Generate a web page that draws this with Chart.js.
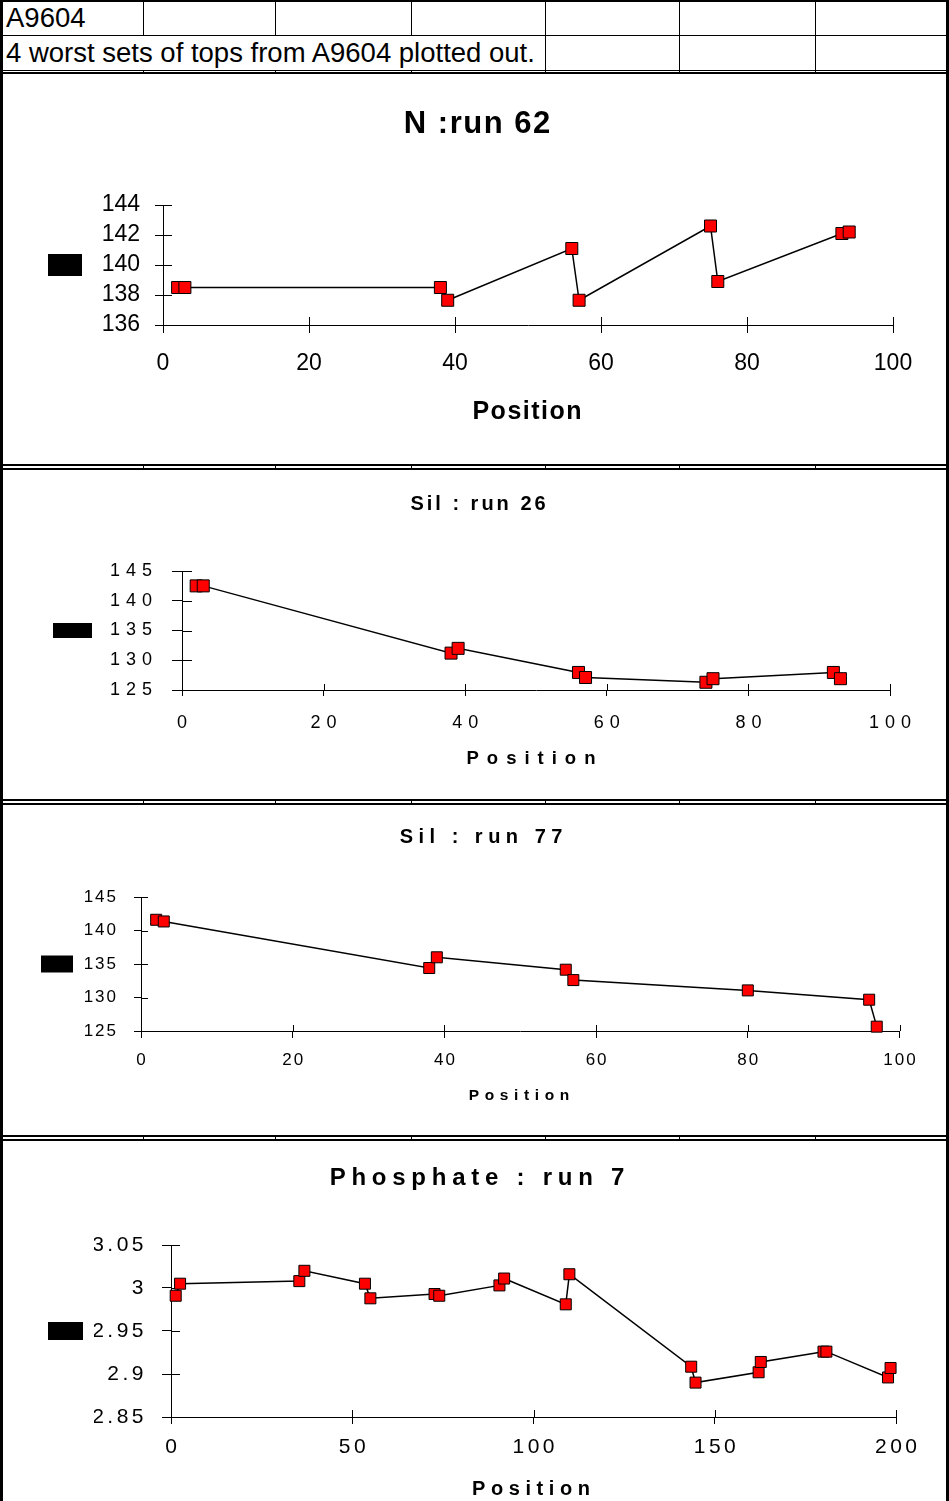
<!DOCTYPE html>
<html><head><meta charset="utf-8">
<script src="https://cdn.jsdelivr.net/npm/chart.js@4.4.1/dist/chart.umd.min.js"></script>
<style>
body{margin:0;background:#fff;}
#page{position:relative;width:949px;height:1501px;overflow:hidden;background:#fff;font-family:"Liberation Sans",Arial,sans-serif;color:#000;}
.vl{position:absolute;width:1px;background:#000;}
.hl{position:absolute;height:1px;background:#000;left:0;width:949px;}
.frame{position:absolute;left:0;width:949px;box-sizing:border-box;border:2px solid #000;border-left-width:3px;border-right-width:3px;background:#fff;}
.txt{position:absolute;white-space:nowrap;left:6px;font-size:27.5px;line-height:28px;}
.ctr{position:absolute;white-space:nowrap;text-align:center;width:600px;font-weight:bold;}
canvas{position:absolute;left:0;}
</style></head><body>
<div id="page">
  <div class="hl" style="top:0;height:2px"></div>
  <div class="hl" style="top:35px"></div>
  <div class="hl" style="top:70px"></div>
  <div class="vl" style="left:0;top:0;height:1501px;width:3px"></div>
  <div class="vl" style="left:946px;top:0;height:1501px;width:3px"></div>
  <div class="vl" style="left:143px;top:0;height:35px"></div>
  <div class="vl" style="left:275px;top:0;height:35px"></div>
  <div class="vl" style="left:411px;top:0;height:35px"></div>
  <div class="vl" style="left:545px;top:0;height:72px"></div>
  <div class="vl" style="left:679px;top:0;height:72px"></div>
  <div class="vl" style="left:815px;top:0;height:72px"></div>
  <div id="stubs"></div>
  <div class="txt" style="top:4px">A9604</div>
  <div class="txt" style="top:39px">4 worst sets of tops from A9604 plotted out.</div>

  <div class="frame" style="top:72px;height:394px"></div>
  <div class="frame" style="top:468px;height:333px"></div>
  <div class="frame" style="top:803px;height:334px"></div>
  <div class="frame" style="top:1139px;height:370px"></div>

  <canvas id="c1"></canvas>
  <canvas id="c2"></canvas>
  <canvas id="c3"></canvas>
  <canvas id="c4"></canvas>

  <div class="ctr" style="font-size:31px;line-height:31px;letter-spacing:1.5px;text-indent:1.5px;left:177px;top:107px">N :run 62</div>
  <div class="ctr" style="font-size:25px;line-height:25px;letter-spacing:1.5px;text-indent:1.5px;left:227px;top:398px">Position</div>

  <div class="ctr" style="font-size:20px;line-height:20px;letter-spacing:3px;text-indent:3px;left:178px;top:493px">Sil : run 26</div>
  <div class="ctr" style="font-size:18.5px;line-height:18.5px;letter-spacing:8px;text-indent:8px;left:231px;top:749px">Position</div>

  <div class="ctr" style="font-size:20px;line-height:20px;letter-spacing:5.5px;text-indent:5.5px;left:181px;top:826px">Sil : run 77</div>
  <div class="ctr" style="font-size:15.5px;line-height:15.5px;letter-spacing:5.6px;text-indent:5.6px;left:219px;top:1087px">Position</div>

  <div class="ctr" style="font-size:24px;line-height:24px;letter-spacing:5.75px;text-indent:5.75px;left:177px;top:1165px">Phosphate : run 7</div>
  <div class="ctr" style="font-size:20px;line-height:20px;letter-spacing:5.6px;text-indent:5.6px;left:231px;top:1478px">Position</div>
</div>
<script>
// ---- data ----
const n62Pos = [2, 3, 38, 39, 56, 57, 75, 76, 93, 94];
const n62Val = [138.5, 138.5, 138.5, 137.65, 141.1, 137.65, 142.6, 138.9, 142.1, 142.2];
const n62XTicks = [0, 20, 40, 60, 80, 100];
const n62YTicks = [136, 138, 140, 142, 144];

const sil26Pos = [2, 3, 38, 39, 56, 57, 74, 75, 92, 93];
const sil26Val = [142.5, 142.5, 131.2, 132.0, 127.95, 127.1, 126.3, 126.9, 127.95, 126.9];
const sil26XTicks = [0, 20, 40, 60, 80, 100];
const sil26YTicks = [125, 130, 135, 140, 145];

const sil77Pos = [2, 3, 38, 39, 56, 57, 80, 96, 97];
const sil77Val = [141.6, 141.35, 134.4, 136.0, 134.15, 132.6, 131.06, 129.67, 125.65];
const sil77XTicks = [0, 20, 40, 60, 80, 100];
const sil77YTicks = [125, 130, 135, 140, 145];

const phos7Pos = [1.3, 2.5, 35.4, 36.8, 53.5, 55, 72.7, 74, 90.6, 91.9, 108.9, 109.9, 143.5, 144.7, 162.1, 162.7, 180, 180.8, 197.8, 198.5];
const phos7Val = [2.991, 3.005, 3.008, 3.020, 3.005, 2.988, 2.993, 2.991, 3.003, 3.011, 2.981, 3.016, 2.9085, 2.890, 2.902, 2.914, 2.926, 2.926, 2.896, 2.907];
const phos7XTicks = [0, 50, 100, 150, 200];
const phos7YTicks = [2.85, 2.9, 2.95, 3, 3.05];

// sheet grid stubs visible between the chart frames
(function () {
  const cols = [143, 275, 411, 545, 679, 815];
  const gaps = [[70, 2], [466, 2], [801, 2], [1137, 2]];
  const host = document.getElementById('stubs');
  gaps.forEach(g => cols.forEach(x => {
    const d = document.createElement('div');
    d.className = 'vl'; d.style.left = x + 'px'; d.style.top = g[0] + 'px'; d.style.height = g[1] + 'px';
    host.appendChild(d);
  }));
})();

const FONT = '"Liberation Sans", Arial, sans-serif';

const crossTicks = {
  id: 'crossTicks',
  beforeDatasetsDraw(chart, args, o) {
    const ctx = chart.ctx, xs = chart.scales.x, ys = chart.scales.y, a = chart.chartArea;
    ctx.save();
    ctx.strokeStyle = '#000'; ctx.lineWidth = 1;
    ctx.beginPath();
    xs.ticks.forEach(t => { const p = Math.round(xs.getPixelForValue(t.value)) + 0.5; ctx.moveTo(p, a.bottom); ctx.lineTo(p, a.bottom - o.x); });
    ys.ticks.forEach(t => { const p = Math.round(ys.getPixelForValue(t.value)) + 0.5; ctx.moveTo(a.left, p); ctx.lineTo(a.left + o.y, p); });
    ctx.stroke();
    ctx.restore();
  }
};
const letterSp = {
  id: 'lsp',
  beforeDraw(chart, args, o) { chart.ctx.letterSpacing = (o.px || 0) + 'px'; }
};

function build(id, c) {
  const cv = document.getElementById(id);
  cv.width = 949; cv.height = c.H; cv.style.top = c.T + 'px';
  const legendW = c.leg.w + 1 + 10;
  const yW = c.area.l - c.leg.x - legendW;
  const xH = 60;
  const pad = { left: c.leg.x, right: 949 - c.area.r, top: c.area.t - c.T, bottom: c.T + c.H - c.area.b - xH };
  const fmt = v => String(Math.round(v * 100) / 100);
  new Chart(cv, {
    type: 'scatter',
    data: { datasets: [{
      data: c.xs.map((x, i) => ({ x: x, y: c.ys[i] })),
      showLine: true, borderColor: '#000', borderWidth: 1.5,
      pointStyle: 'rect', pointRadius: c.ps / Math.SQRT2, pointHoverRadius: c.ps / Math.SQRT2,
      pointBackgroundColor: '#ff0000', pointBorderColor: '#000', pointBorderWidth: 1,
      tension: 0, clip: false
    }] },
    options: {
      responsive: false, animation: false, events: [],
      layout: { padding: pad },
      plugins: {
        legend: { display: true, position: 'left', align: 'center', fullSize: false,
          labels: { boxWidth: c.leg.w, boxHeight: c.leg.h, padding: 0, font: { size: 2 },
            generateLabels: () => [{ text: '', fillStyle: '#000', strokeStyle: '#000', lineWidth: 0, hidden: false, datasetIndex: 0 }] } },
        tooltip: { enabled: false },
        title: { display: false },
        crossTicks: { x: c.cx, y: c.cy },
        lsp: { px: c.sp }
      },
      scales: {
        x: { type: 'linear', min: c.xt[0], max: c.xt[c.xt.length - 1],
          afterBuildTicks: s => { s.ticks = c.xt.map(v => ({ value: v })); },
          afterFit: s => { s.height = xH; },
          grid: { display: true, drawOnChartArea: false, drawTicks: true, tickLength: c.xtl, color: '#000', lineWidth: 1 },
          border: { display: true, color: '#000', width: 1 },
          ticks: { color: '#000', font: { family: FONT, size: c.fs }, padding: c.xpad, labelOffset: c.sp / 2, maxRotation: 0, autoSkip: false, callback: fmt } },
        y: { type: 'linear', min: c.yt[0], max: c.yt[c.yt.length - 1],
          afterBuildTicks: s => { s.ticks = c.yt.map(v => ({ value: v })); },
          afterFit: s => { s.width = yW; },
          grid: { display: true, drawOnChartArea: false, drawTicks: true, tickLength: c.ytl, color: '#000', lineWidth: 1 },
          border: { display: true, color: '#000', width: 1 },
          ticks: { color: '#000', font: { family: FONT, size: c.fs }, padding: c.ypad, autoSkip: false, callback: fmt } }
      }
    },
    plugins: [letterSp, crossTicks]
  });
}

build('c1', { T: 72, H: 394, xs: n62Pos, ys: n62Val, xt: n62XTicks, yt: n62YTicks,
  area: { l: 163, r: 893, t: 205, b: 325 }, leg: { x: 48, w: 34, h: 22 },
  fs: 23, sp: 0, ypad: 15, ytl: 8, xpad: 17, xtl: 8, cx: 8, cy: 9, ps: 12 });
build('c2', { T: 468, H: 333, xs: sil26Pos, ys: sil26Val, xt: sil26XTicks, yt: sil26YTicks,
  area: { l: 182, r: 890, t: 571, b: 690 }, leg: { x: 53, w: 39, h: 15 },
  fs: 18, sp: 6, ypad: 14, ytl: 10, xpad: 16, xtl: 6, cx: 6, cy: 10, ps: 12 });
build('c3', { T: 803, H: 334, xs: sil77Pos, ys: sil77Val, xt: sil77XTicks, yt: sil77YTicks,
  area: { l: 141, r: 899.5, t: 897, b: 1031 }, leg: { x: 41, w: 32, h: 17 },
  fs: 17, sp: 2, ypad: 16, ytl: 7, xpad: 12, xtl: 7, cx: 6, cy: 7, ps: 11 });
build('c4', { T: 1139, H: 362, xs: phos7Pos, ys: phos7Val, xt: phos7XTicks, yt: phos7YTicks,
  area: { l: 171, r: 896, t: 1245, b: 1417 }, leg: { x: 48, w: 35, h: 18 },
  fs: 21, sp: 3.5, ypad: 15, ytl: 9, xpad: 10.4, xtl: 7, cx: 7, cy: 9, ps: 11 });
</script>
</body></html>
